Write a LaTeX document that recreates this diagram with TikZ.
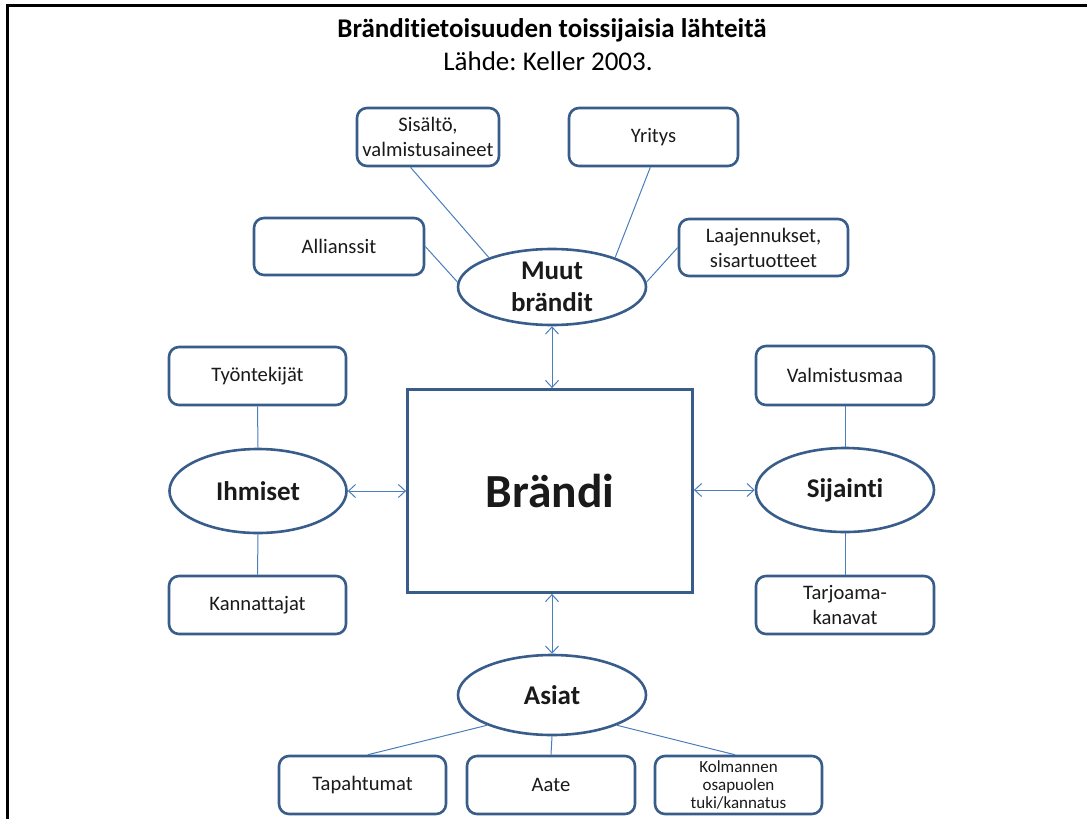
\documentclass[tikz,border=0pt]{standalone}
\usepackage{fontspec}
\setmainfont{Carlito}[Ligatures=NoCommon]
\usetikzlibrary{shapes.geometric,arrows.meta}
\definecolor{bord}{HTML}{385D8A}
\definecolor{conn}{HTML}{4A7EBB}
\definecolor{txt}{HTML}{1A1A1A}
\frenchspacing
\begin{document}
\begin{tikzpicture}[x=1pt,y=-1pt,
 rbox/.style={draw=bord, line width=2.6pt, rounded corners=10pt, fill=white, text=txt, align=center, inner sep=0pt, font=\fontsize{20.6}{25}\selectfont},
 ell/.style={ellipse, draw=bord, line width=2.6pt, fill=white, text=txt, inner sep=0pt, align=center, font=\fontsize{27}{32}\selectfont\bfseries},
 link/.style={draw=conn, line width=1pt},
 dbl/.style={draw=conn, line width=1pt, {Straight Barb[length=7pt,width=13pt]}-{Straight Barb[length=7pt,width=13pt]}}]
\useasboundingbox (0,0) rectangle (1087,819);
\draw[line width=3pt] (7,819) -- (7,5) -- (1087,5);
\node[font=\fontsize{27}{30}\selectfont\bfseries] (title) at (552,30) {Bränditietoisuuden toissijaisia lähteitä};
\node[font=\fontsize{27}{30}\selectfont] (sub) at (548,61) {Lähde: Keller 2003.};
% boxes
\node[rbox, minimum width=142pt, minimum height=58pt] (sis) at (428,137) {Sisältö,\\valmistusaineet};
\node[rbox, minimum width=169pt, minimum height=58pt] (yri) at (653.5,137) {Yritys};
\node[rbox, minimum width=170pt, minimum height=57pt] (all) at (339,246.5) {Allianssit};
\node[rbox, minimum width=169pt, minimum height=57pt] (laa) at (763.5,247.5) {Laajennukset,\\sisartuotteet};
\node[ell, minimum width=188pt, minimum height=76pt] (muut) at (552,287) {Muut\\brändit};
\node[draw=bord, line width=2.8pt, fill=white, text=txt, inner sep=0pt, minimum width=285pt, minimum height=203pt, font=\fontsize{47.5}{52}\selectfont\bfseries] (brandi) at (550,491) {Brändi};
\node[rbox, minimum width=177pt, minimum height=58pt] (tyo) at (257.5,376) {Työntekijät};
\node[ell, minimum width=177pt, minimum height=84pt] (ihm) at (258,491) {Ihmiset};
\node[rbox, minimum width=177pt, minimum height=58pt] (kan) at (257.5,605) {Kannattajat};
\node[rbox, minimum width=178pt, minimum height=59pt] (val) at (845,375.5) {Valmistusmaa};
\node[ell, minimum width=178pt, minimum height=84pt] (sij) at (845,490) {Sijainti};
\node[rbox, minimum width=178pt, minimum height=58pt] (tar) at (845,605) {Tarjoama-\\kanavat};
\node[ell, minimum width=188pt, minimum height=80pt] (asi) at (552,695) {Asiat};
\node[rbox, minimum width=167pt, minimum height=58pt] (tap) at (362.5,785) {Tapahtumat};
\node[rbox, minimum width=168pt, minimum height=58pt] (aat) at (551,785) {Aate};
\node[rbox, minimum width=167pt, minimum height=58pt, font=\fontsize{17}{18}\selectfont] (kol) at (738.5,785) {Kolmannen\\osapuolen\\tuki/kannatus};
% links
\draw[link] (sis.240) -- (muut.155);
\draw[link] (yri.264) -- (muut.25);
\draw[link] (all.east) -- (muut.177);
\draw[link] (laa.west) -- (muut.3);
\draw[link] (tyo.south) -- (ihm.north);
\draw[link] (ihm.south) -- (kan.north);
\draw[link] (val.south) -- (sij.north);
\draw[link] (sij.south) -- (tar.north);
\draw[link] (asi.205) -- (tap.80);
\draw[link] (asi.south) -- (aat.north);
\draw[link] (asi.335) -- (kol.97);
% arrows
\draw[dbl] (muut.south) -- (brandi.north -| muut.south);
\draw[dbl] (ihm.east) -- (brandi.west |- ihm.east);
\draw[dbl] (brandi.east |- sij.west) -- (sij.west);
\draw[dbl] (brandi.south -| asi.north) -- (asi.north);
\end{tikzpicture}
\end{document}
